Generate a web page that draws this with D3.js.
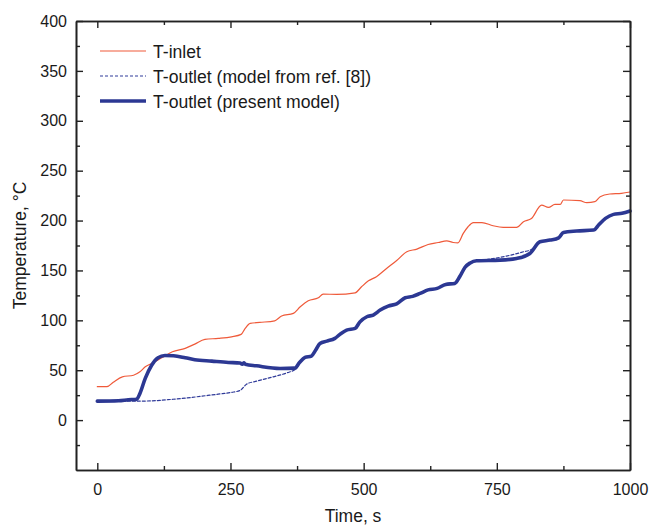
<!DOCTYPE html>
<html>
<head>
<meta charset="utf-8">
<script src="https://cdn.jsdelivr.net/npm/d3@7/dist/d3.min.js"></script>
<style>
  html, body { margin: 0; padding: 0; background: #fff; }
  svg { display: block; font-family: "Liberation Sans", Arial, sans-serif; }
</style>
</head>
<body>
<svg id="chart" width="651" height="526"></svg>
<script>
// Inlet temperature, [time s, °C]
const inletData = [
  [0,33.5],[18,33.5],[30,38],[47,43.4],[68,45],[80,48.4],[90,53.4],[102,56.8],
  [121,62.5],[141,68.5],[165,71.9],[183,76.2],[202,80.9],[227,81.9],[252,83.5],
  [270,85.9],[277,91.5],[287,96.9],[305,97.9],[333,99.5],[346,104.3],[368,107],
  [381,113.6],[396,119.6],[415,122.6],[424,126.3],[449,126],[484,127.6],[496,133.6],
  [509,139.6],[524,143.7],[543,152],[562,160],[581,168.7],[600,171.4],[621,176],
  [640,178],[656,179.7],[668,178],[677,177.7],[687,187.1],[696,193.8],[706,198],
  [722,198],[743,194.8],[762,193.2],[787,193.2],[800,198.8],[815,202],[834,215.5],
  [847,213.2],[859,216.2],[869,216.2],[875,220.6],[906,219.9],[919,217.9],[934,218.9],
  [944,223.9],[962,226.6],[984,227.3],[1000,228.6]
];

// Outlet temperature, present model
const presentData = [
  [0,19],[40,19.4],[58,20.4],[74,21],[80,26.7],[90,41.8],[102,55],[114,62.5],
  [127,64.8],[143,64.5],[165,62.5],[183,60.5],[215,59.1],[246,57.8],[268,57.2],
  [272,56],[275,57.5],[278,56],[299,54.4],[343,51.8],[371,52.1],[380,58],[390,62.8],
  [402,64.2],[410,70.2],[418,76.9],[431,79.2],[446,81.9],[456,86.2],[468,90.2],
  [484,91.9],[493,98.5],[506,103.6],[518,105.3],[531,110.3],[546,114.3],[562,116.5],
  [578,122.6],[592,124],[606,127],[621,130.5],[638,132],[654,136],[671,137],
  [681,144.4],[690,153],[700,157.5],[712,159.7],[756,160.3],[787,162],[812,167],
  [831,178.7],[850,180.4],[866,182.7],[875,188.1],[900,189.5],[932,190.5],[941,195.5],
  [954,202.2],[969,206.2],[985,207.3],[1000,209.6]
];

// Outlet temperature, model from ref. [8]
const refData = [
  [0,19],[70,19],[102,19.3],[140,20.8],[165,22],[196,24],[227,26],[252,27.8],
  [268,29.8],[277,34.4],[280,36],[299,39],[330,43.4],[356,47.4],[374,51.8],
  [380,58],[390,62.8],[402,64.2],[410,70.2],[418,76.9],[431,79.2],[446,81.9],
  [456,86.2],[468,90.2],[484,91.9],[493,98.5],[506,103.6],[518,105.3],[531,110.3],
  [546,114.3],[562,116.5],[578,122.6],[592,124],[606,127],[621,130.5],[638,132],
  [654,136],[671,137],[681,144.4],[690,153],[700,157.5],[712,159.7],[737,161.4],
  [768,164.4],[800,168.7],[815,171],[831,178.7],[850,180.4],[866,182.7],[875,188.1],
  [900,189.5],[932,190.5],[941,195.5],[954,202.2],[969,206.2],[985,207.3],[1000,209.6]
];

const xMajor = [0, 250, 500, 750, 1000];
const xMinor = [125, 375, 625, 875];
const yMajor = [0, 50, 100, 150, 200, 250, 300, 350, 400];
const yMinor = [-25, 25, 75, 125, 175, 225, 275, 325, 375];

const legendItems = [
  { label: "T-inlet", key: "inlet" },
  { label: "T-outlet (model from ref. [8])", key: "ref" },
  { label: "T-outlet (present model)", key: "present" }
];

const styles = {
  inlet:   { color: "#ef5a3a", width: 1.2, dash: null },
  ref:     { color: "#2f3a99", width: 1.2, dash: "3,2" },
  present: { color: "#2c3893", width: 3.6, dash: null }
};

const svg = d3.select("#chart");
const frame = { left: 76, right: 630, top: 21, bottom: 470 };

const x = d3.scaleLinear().domain([-40, 1000]).range([frame.left, frame.right]);
const y = d3.scaleLinear().domain([-50, 400]).range([frame.bottom, frame.top]);

const axisColor = "#222";
const textColor = "#1a1a1a";

const line = d3.line()
  .x(d => x(d[0]))
  .y(d => y(d[1]))
  .curve(d3.curveMonotoneX);

const plot = svg.append("g");

function drawSeries(data, key) {
  const s = styles[key];
  plot.append("path")
    .datum(data)
    .attr("fill", "none")
    .attr("stroke", s.color)
    .attr("stroke-width", s.width)
    .attr("stroke-linejoin", "round")
    .attr("stroke-linecap", "round")
    .attr("stroke-dasharray", s.dash)
    .attr("d", line);
}

drawSeries(inletData, "inlet");
drawSeries(refData, "ref");
drawSeries(presentData, "present");

// Axes: labelled bottom/left, mirrored ticks on top/right, all ticks pointing inward
function styleAxis(g) {
  g.select(".domain").attr("stroke", axisColor).attr("stroke-width", 1.6);
  g.selectAll(".tick line").attr("stroke", axisColor).attr("stroke-width", 1.4);
  g.selectAll(".tick text")
    .attr("fill", textColor)
    .style("font-size", "16px")
    .style("font-family", "'Liberation Sans', Arial, sans-serif");
}

const majorLen = 7, minorLen = 4;

svg.append("g")
  .attr("transform", `translate(0,${frame.bottom})`)
  .call(d3.axisBottom(x).tickValues(xMajor).tickSize(-majorLen).tickSizeOuter(0).tickPadding(14).tickFormat(d3.format("d")))
  .call(styleAxis);
svg.append("g")
  .attr("transform", `translate(0,${frame.bottom})`)
  .call(d3.axisBottom(x).tickValues(xMinor).tickSize(-minorLen).tickSizeOuter(0).tickFormat(""))
  .call(styleAxis);

svg.append("g")
  .attr("transform", `translate(0,${frame.top})`)
  .call(d3.axisTop(x).tickValues(xMajor).tickSize(-majorLen).tickSizeOuter(0).tickFormat(""))
  .call(styleAxis);
svg.append("g")
  .attr("transform", `translate(0,${frame.top})`)
  .call(d3.axisTop(x).tickValues(xMinor).tickSize(-minorLen).tickSizeOuter(0).tickFormat(""))
  .call(styleAxis);

svg.append("g")
  .attr("transform", `translate(${frame.left},0)`)
  .call(d3.axisLeft(y).tickValues(yMajor).tickSize(-majorLen).tickSizeOuter(0).tickPadding(9).tickFormat(d3.format("d")))
  .call(styleAxis);
svg.append("g")
  .attr("transform", `translate(${frame.left},0)`)
  .call(d3.axisLeft(y).tickValues(yMinor).tickSize(-minorLen).tickSizeOuter(0).tickFormat(""))
  .call(styleAxis);

svg.append("g")
  .attr("transform", `translate(${frame.right},0)`)
  .call(d3.axisRight(y).tickValues(yMajor).tickSize(-majorLen).tickSizeOuter(0).tickFormat(""))
  .call(styleAxis);
svg.append("g")
  .attr("transform", `translate(${frame.right},0)`)
  .call(d3.axisRight(y).tickValues(yMinor).tickSize(-minorLen).tickSizeOuter(0).tickFormat(""))
  .call(styleAxis);

// Axis titles
svg.append("text")
  .attr("x", (frame.left + frame.right) / 2)
  .attr("y", 522)
  .attr("text-anchor", "middle")
  .attr("fill", textColor)
  .style("font-size", "17.5px")
  .text("Time, s");

svg.append("text")
  .attr("transform", `translate(26,${(frame.top + frame.bottom) / 2}) rotate(-90)`)
  .attr("text-anchor", "middle")
  .attr("fill", textColor)
  .style("font-size", "17.5px")
  .text("Temperature, °C");

// Legend
const legend = svg.append("g").attr("transform", "translate(100,51)");
legendItems.forEach((item, i) => {
  const s = styles[item.key];
  const gy = i * 25;
  legend.append("line")
    .attr("x1", 0).attr("x2", 46)
    .attr("y1", gy).attr("y2", gy)
    .attr("stroke", s.color)
    .attr("stroke-width", s.width)
    .attr("stroke-dasharray", s.dash);
  legend.append("text")
    .attr("x", 53)
    .attr("y", gy + 6.5)
    .attr("fill", textColor)
    .style("font-size", "17.6px")
    .text(item.label);
});
</script>
</body>
</html>
